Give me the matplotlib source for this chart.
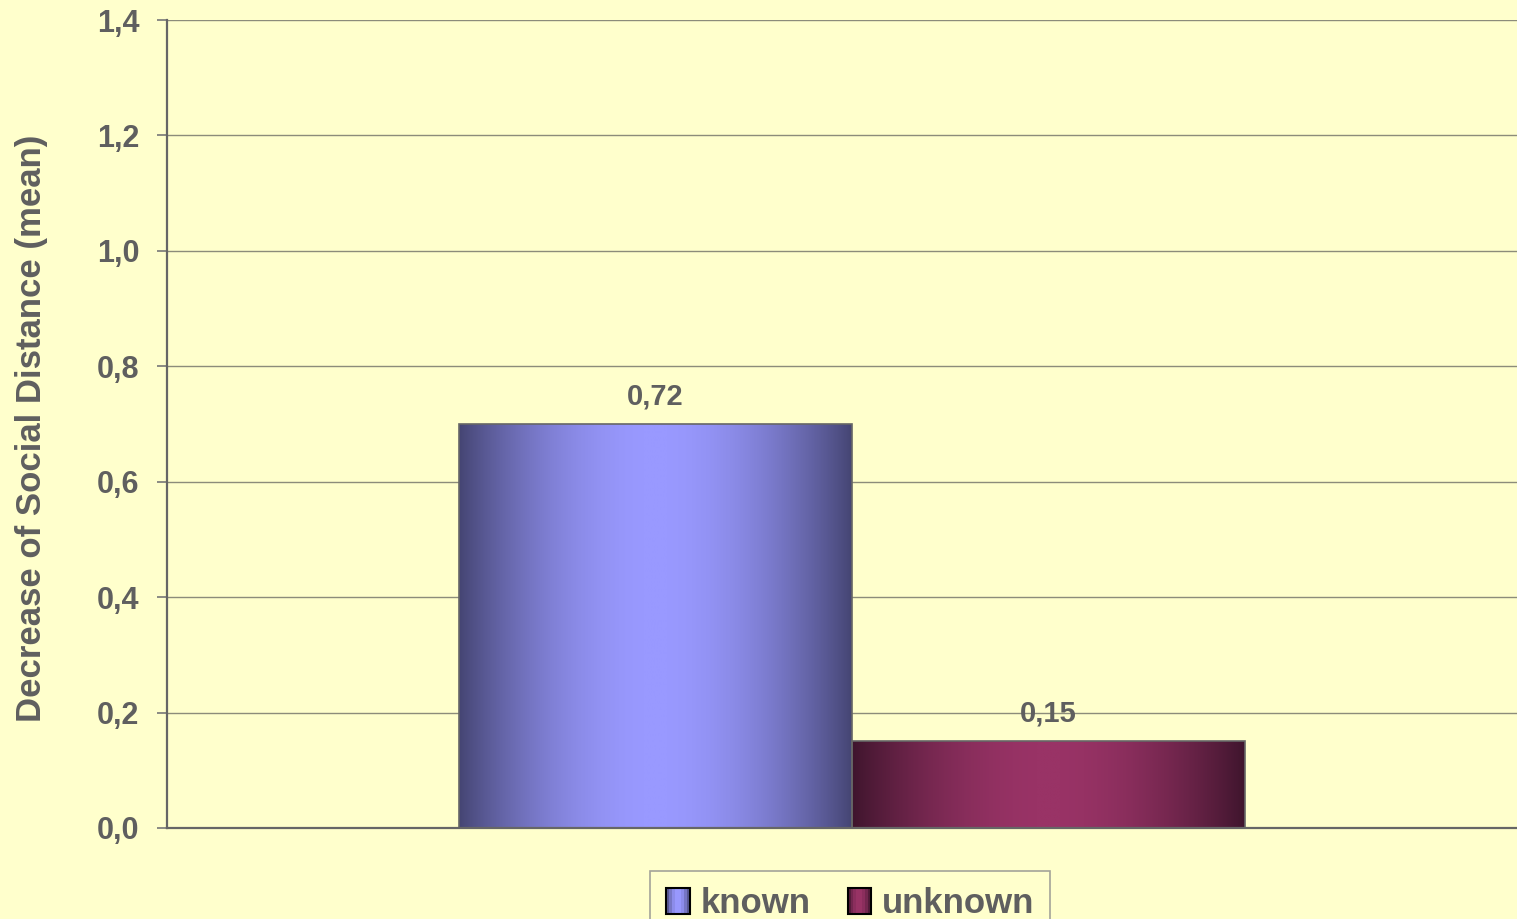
import numpy as np
import matplotlib
matplotlib.use("Agg")
import matplotlib.pyplot as plt
from matplotlib.colors import LinearSegmentedColormap
from matplotlib.patches import Rectangle
from matplotlib.legend_handler import HandlerBase

# ---- data ----
categories = ["known", "unknown"]
values = [0.70, 0.15]
value_labels = ["0,72", "0,15"]
yticks = [0.0, 0.2, 0.4, 0.6, 0.8, 1.0, 1.2, 1.4]
ytick_labels = ["0,0", "0,2", "0,4", "0,6", "0,8", "1,0", "1,2", "1,4"]
ylabel = "Decrease of Social Distance (mean)"

# ---- style ----
BG = "#FFFFCC"
TXT = "#5F5F5F"
dark_cols = ["#454573", "#3F152D"]
light_cols = ["#9999FF", "#993366"]
plt.rcParams['font.family'] = ['Liberation Sans', 'DejaVu Sans']
plt.rcParams['font.weight'] = 'bold'

W, H = 1517, 919
fig = plt.figure(figsize=(W / 100, H / 100), dpi=100, facecolor=BG)
ax = fig.add_axes([167 / W, 1 - 828 / H, (1537 - 167) / W, (828 - 20) / H])
ax.set_facecolor(BG)

bar_w = 393 / 1370
xs = [-bar_w / 2, bar_w / 2]

t = np.linspace(0, 1, 256)
prof = np.sin(np.pi * t) ** 0.9
grad_img = prof[np.newaxis, :]

for x, v, dcol, lcol, lab in zip(xs, values, dark_cols, light_cols, value_labels):
    bars = ax.bar(x, v, width=bar_w, facecolor="none", edgecolor="#666666",
                  linewidth=1.2, zorder=3)
    p = bars[0]
    cmap = LinearSegmentedColormap.from_list("g", [dcol, lcol])
    im = ax.imshow(grad_img, extent=[x - bar_w / 2, x + bar_w / 2, 0, v],
                   aspect="auto", cmap=cmap, vmin=0, vmax=1, zorder=2,
                   interpolation="bilinear")
    im.set_clip_path(p)
    ax.text(x, v + 0.048, lab, ha="center", va="center", fontsize=21,
            color=TXT, fontweight="bold", zorder=4)

ax.set_xlim(-0.5, 0.5)
ax.set_ylim(0, 1.4)
ax.set_yticks(yticks)
ax.set_yticklabels(ytick_labels, fontsize=22, color=TXT, fontweight="bold")
ax.set_xticks([])
ax.tick_params(axis="y", length=7, width=1.2, color="#777777", pad=13)
ax.yaxis.grid(True, color="#8C8C7A", linewidth=1.0, zorder=0)
ax.set_axisbelow(True)
for s in ["top", "right"]:
    ax.spines[s].set_visible(False)
for s in ["left", "bottom"]:
    ax.spines[s].set_color("#666666")
    ax.spines[s].set_linewidth(1.6)
    ax.spines[s].set_zorder(5)

fig.text(32 / W, 1 - 428 / H, ylabel, rotation=90, ha="center", va="center",
         fontsize=25, color=TXT, fontweight="bold")

# legend with gradient swatches
class GradHandler(HandlerBase):
    def __init__(self, dcol, lcol):
        super().__init__()
        self.cmap = LinearSegmentedColormap.from_list("g", [dcol, lcol])
    def create_artists(self, legend, orig_handle, xdescent, ydescent, width,
                       height, fontsize, trans):
        arts = []
        n = 8
        sw = height * 0.95
        x0 = (width - sw) / 2 - xdescent
        y0 = -ydescent - 0.05 * height
        hh = height * 1.05
        for i in range(n):
            f = np.sin(np.pi * (i + 0.5) / n) ** 0.9
            r = Rectangle((x0 + i * sw / n, y0), sw / n, hh,
                          facecolor=self.cmap(f), edgecolor="none",
                          transform=trans)
            arts.append(r)
        arts.append(Rectangle((x0, y0), sw, hh, facecolor="none",
                              edgecolor="black", linewidth=1.5, transform=trans))
        return arts

h1 = Rectangle((0, 0), 1, 1)
h2 = Rectangle((0, 0), 1, 1)
leg = fig.legend([h1, h2], categories, loc="upper center",
                 bbox_to_anchor=(850 / W, 1 - 871 / H), ncol=2,
                 handler_map={h1: GradHandler(dark_cols[0], light_cols[0]),
                              h2: GradHandler(dark_cols[1], light_cols[1])},
                 prop={"size": 25, "weight": "bold"}, frameon=True,
                 fancybox=False, handlelength=0.7, handletextpad=0.3,
                 columnspacing=1.05, borderpad=0.45, borderaxespad=0)
for txt in leg.get_texts():
    txt.set_color(TXT)
fr = leg.get_frame()
fr.set_facecolor(BG)
fr.set_edgecolor("#8C8C8C")
fr.set_linewidth(1.2)

fig.savefig("out.png", dpi=100, facecolor=BG)
